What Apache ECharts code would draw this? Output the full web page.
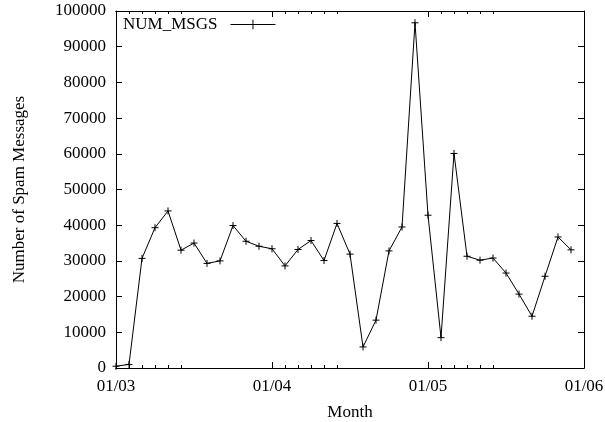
<!DOCTYPE html>
<html>

<head>
    <title>Spam messages</title>
    <meta charset="utf-8">
    <script type="text/javascript" src="https://cdn.jsdelivr.net/npm/echarts@6/dist/echarts.min.js"></script>
    <style>
    html, body {
        margin: 0;
        padding: 0;
        background: #fff;
    }

    .main {
        width: 605px;
        height: 422px;
    }
    </style>
</head>

<body>
    <div id="main" class="main"></div>
    <script type="text/javascript">
    // one point per sample, 12 samples per month, index 0 = 01/03
    const numMsgs = [
        500, 1000, 30700, 39300, 44000, 33000, 35000, 29300, 30000, 39900, 35500, 34100,
        33400, 28600, 33200, 35700, 30100, 40500, 31900, 5900, 13400, 32800, 39500, 96700,
        42800, 8500, 60100, 31300, 30200, 30800, 26600, 20700, 14500, 25700, 36700, 33100
    ];
    const monthLabels = ['01/03', '01/04', '01/05', '01/06'];
    const monthTicks = [0, 12, 24, 36];
    // small tics right after each month tic
    const minorTicks = [1, 2, 3, 4, 5, 13, 14, 15, 16, 17, 25, 26, 27, 28, 29];

    const font = 'Liberation Serif';
    const seriesData = numMsgs.map(function(v, i) {
        return [i, v];
    });

    const myChart = echarts.init(document.getElementById('main'));

    function xAxisDef(pos, ticks, len, showLabels, name) {
        return {
            type: 'value',
            position: pos,
            min: 0,
            max: 36,
            interval: 12,
            name: name || '',
            nameLocation: 'middle',
            nameGap: 36,
            nameTextStyle: { fontFamily: font, fontSize: 17, color: '#000' },
            axisLine: { show: true, onZero: false, lineStyle: { color: '#000', width: 1 } },
            axisTick: { show: true, inside: true, length: len, customValues: ticks, lineStyle: { color: '#000' } },
            axisLabel: {
                show: showLabels,
                customValues: monthTicks,
                margin: 10,
                fontFamily: font,
                fontSize: 17,
                color: '#000',
                formatter: function(v) {
                    const i = monthTicks.indexOf(v);
                    return i < 0 ? '' : monthLabels[i];
                }
            },
            splitLine: { show: false }
        };
    }

    function yAxisDef(pos, showLabels, name) {
        return {
            type: 'value',
            position: pos,
            min: 0,
            max: 100000,
            interval: 10000,
            name: name || '',
            nameLocation: 'middle',
            nameGap: 88,
            nameTextStyle: { fontFamily: font, fontSize: 17, color: '#000' },
            axisLine: { show: true, onZero: false, lineStyle: { color: '#000', width: 1 } },
            axisTick: { show: true, inside: true, length: 6, lineStyle: { color: '#000' } },
            axisLabel: {
                show: showLabels,
                margin: 10,
                fontFamily: font,
                fontSize: 17,
                color: '#000',
                formatter: function(v) {
                    return String(v);
                }
            },
            splitLine: { show: false }
        };
    }

    const option = {
        animation: false,
        backgroundColor: '#fff',
        grid: {
            left: 116,
            right: 21,
            top: 11,
            bottom: 54,
            containLabel: false,
            outerBoundsMode: 'none'
        },
        legend: {
            left: 123,
            top: 16,
            padding: 0,
            align: 'right',
            itemWidth: 45,
            itemHeight: 12,
            lineStyle: { width: 1, color: '#000' },
            itemStyle: { borderWidth: 1 },
            textStyle: { fontFamily: font, fontSize: 17, color: '#000', padding: [0, 8, 0, 0] },
            data: ['NUM_MSGS']
        },
        xAxis: [
            xAxisDef('bottom', monthTicks, 6, true, 'Month'),
            xAxisDef('bottom', minorTicks, 3, false),
            xAxisDef('top', monthTicks, 6, false),
            xAxisDef('top', minorTicks, 3, false)
        ],
        yAxis: [
            yAxisDef('left', true, 'Number of Spam Messages'),
            yAxisDef('right', false)
        ],
        series: [{
            name: 'NUM_MSGS',
            type: 'line',
            xAxisIndex: 0,
            yAxisIndex: 0,
            data: seriesData,
            symbol: 'path://M-1,0L1,0M0,-1L0,1',
            symbolSize: 7,
            showAllSymbol: true,
            lineStyle: { color: '#000', width: 1 },
            itemStyle: { color: '#000', borderColor: '#000', borderWidth: 1 }
        }]
    };
    myChart.setOption(option);
    </script>
</body>

</html>
